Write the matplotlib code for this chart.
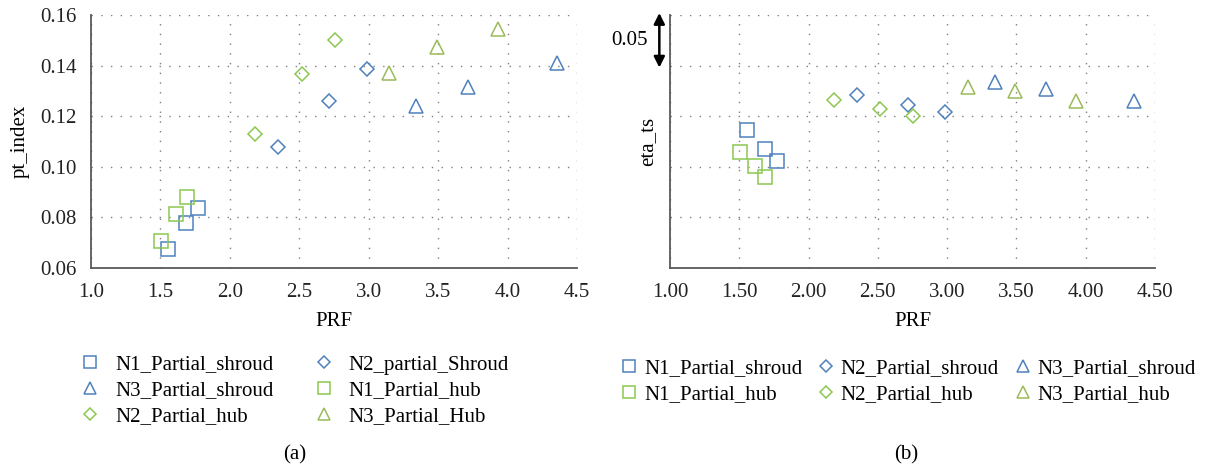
import matplotlib.pyplot as plt

plt.rcParams['font.family'] = ['Liberation Serif', 'DejaVu Serif']
plt.rcParams['font.size'] = 15

# (a) pt_index against PRF
n1_shroud_prf = [1.555, 1.685, 1.774]
n1_shroud_pt = [0.0675, 0.0778, 0.0836]
n1_hub_prf = [1.507, 1.613, 1.690]
n1_hub_pt = [0.0707, 0.0814, 0.0879]
n2_shroud_prf = [2.348, 2.717, 2.991]
n2_shroud_pt = [0.1080, 0.1261, 0.1386]
n2_hub_prf = [2.184, 2.517, 2.758]
n2_hub_pt = [0.1130, 0.1368, 0.1500]
n3_shroud_prf = [3.343, 3.715, 4.353]
n3_shroud_pt = [0.1241, 0.1317, 0.1412]
n3_hub_prf = [3.149, 3.493, 3.934]
n3_hub_pt = [0.1370, 0.1472, 0.1543]

# (b) eta_ts against PRF (axis is unlabelled, only the 0.05 scale bar)
n1_shroud_prf_b = [1.553, 1.683, 1.771]
n1_shroud_eta = [0.7368, 0.7171, 0.7054]
n1_hub_prf_b = [1.505, 1.615, 1.686]
n1_hub_eta = [0.7142, 0.7011, 0.6903]
n2_shroud_prf_b = [2.347, 2.716, 2.988]
n2_shroud_eta = [0.7708, 0.7607, 0.7538]
n2_hub_prf_b = [2.183, 2.512, 2.756]
n2_hub_eta = [0.7662, 0.7567, 0.7505]
n3_shroud_prf_b = [3.343, 3.714, 4.352]
n3_shroud_eta = [0.7842, 0.7770, 0.7649]
n3_hub_prf_b = [3.147, 3.493, 3.932]
n3_hub_eta = [0.7787, 0.7747, 0.7649]

x_ticks_a = [1.0, 1.5, 2.0, 2.5, 3.0, 3.5, 4.0, 4.5]
y_ticks_a = [0.06, 0.08, 0.10, 0.12, 0.14, 0.16]
x_ticks_b = [1.0, 1.5, 2.0, 2.5, 3.0, 3.5, 4.0, 4.5]
y_ticks_b = [0.60, 0.65, 0.70, 0.75, 0.80, 0.85]

blue = '#4f81bd'
green = '#8cc850'
olive = '#9bbb59'

W, H = 1213, 468
fig = plt.figure(figsize=(W / 100, H / 100), dpi=100)
ax1 = fig.add_axes([91 / W, 1 - 268 / H, 486 / W, 253 / H])
ax2 = fig.add_axes([670 / W, 1 - 268 / H, 485 / W, 253 / H])


def style(ax):
    for s in ['top', 'right']:
        ax.spines[s].set_visible(False)
    for s in ['left', 'bottom']:
        ax.spines[s].set_color('#595959')
        ax.spines[s].set_linewidth(1.3)
    ax.grid(True, color='#7f7f7f', linestyle=(0, (1, 6)), linewidth=1.0)
    ax.set_axisbelow(True)
    ax.tick_params(length=0, colors='#222222')
    ax.tick_params(axis='x', pad=11)
    ax.tick_params(axis='y', pad=10)
    ax.set_xlabel('PRF', labelpad=7)


def scatter(ax, x, y, marker, color, label, ms):
    return ax.plot(x, y, linestyle='none', marker=marker, ms=ms, mfc='none',
                   mec=color, mew=1.1, label=label, clip_on=False)[0]


# left panel
s1 = scatter(ax1, n1_shroud_prf, n1_shroud_pt, 's', blue, 'N1_Partial_shroud', 10)
s2 = scatter(ax1, n2_shroud_prf, n2_shroud_pt, 'D', blue, 'N2_partial_Shroud', 7.5)
s3 = scatter(ax1, n3_shroud_prf, n3_shroud_pt, '^', blue, 'N3_Partial_shroud', 10)
h1 = scatter(ax1, n1_hub_prf, n1_hub_pt, 's', green, 'N1_Partial_hub', 10)
h2 = scatter(ax1, n2_hub_prf, n2_hub_pt, 'D', green, 'N2_Partial_hub', 7.5)
h3 = scatter(ax1, n3_hub_prf, n3_hub_pt, '^', olive, 'N3_Partial_Hub', 10)
style(ax1)
ax1.set_xlim(1.0, 4.5)
ax1.set_ylim(0.06, 0.16)
ax1.set_xticks(x_ticks_a)
ax1.set_yticks(y_ticks_a)
ax1.set_xticklabels([f'{v:.1f}' for v in x_ticks_a])
ax1.set_yticklabels([f'{v:.2f}' for v in y_ticks_a])
ax1.set_ylabel('pt_index')
ax1.yaxis.set_label_coords(-0.126, 0.5)

leg_a = [s1, s3, h2, s2, h1, h3]
ax1.legend(leg_a, [h.get_label() for h in leg_a], ncol=2, frameon=False,
           loc='upper left', bbox_to_anchor=(80 / W, 1 - 355 / H),
           bbox_transform=fig.transFigure, borderpad=0, borderaxespad=0,
           handlelength=1.0, handletextpad=0.7, columnspacing=1.9,
           labelspacing=0.29, markerscale=0.8)

# right panel
b1 = scatter(ax2, n1_shroud_prf_b, n1_shroud_eta, 's', blue, 'N1_Partial_shroud', 10)
b2 = scatter(ax2, n2_shroud_prf_b, n2_shroud_eta, 'D', blue, 'N2_Partial_shroud', 7.5)
b3 = scatter(ax2, n3_shroud_prf_b, n3_shroud_eta, '^', blue, 'N3_Partial_shroud', 10)
g1 = scatter(ax2, n1_hub_prf_b, n1_hub_eta, 's', green, 'N1_Partial_hub', 10)
g2 = scatter(ax2, n2_hub_prf_b, n2_hub_eta, 'D', green, 'N2_Partial_hub', 7.5)
g3 = scatter(ax2, n3_hub_prf_b, n3_hub_eta, '^', olive, 'N3_Partial_hub', 10)
style(ax2)
ax2.set_xlim(1.0, 4.5)
ax2.set_ylim(0.60, 0.85)
ax2.set_xticks(x_ticks_b)
ax2.set_yticks(y_ticks_b)
ax2.set_xticklabels([f'{v:.2f}' for v in x_ticks_b])
ax2.set_yticklabels([])
ax2.set_ylabel('eta_ts')
ax2.yaxis.set_label_coords(-0.026, 0.5)

# 0.05 scale bar on the unlabelled axis
ax2.annotate('', xy=(-0.022, 0.852), xytext=(-0.022, 0.798),
             xycoords=('axes fraction', 'data'),
             arrowprops=dict(arrowstyle='<|-|>', color='black', lw=1.8,
                             mutation_scale=16, shrinkA=0, shrinkB=0),
             annotation_clip=False)
ax2.text(-0.045, 0.825, '0.05', transform=ax2.get_yaxis_transform(),
         ha='right', va='center')

leg_b = [b1, g1, b2, g2, b3, g3]
ax2.legend(leg_b, [h.get_label() for h in leg_b], ncol=3, frameon=False,
           loc='upper left', bbox_to_anchor=(621 / W, 1 - 359 / H),
           bbox_transform=fig.transFigure, borderpad=0, borderaxespad=0,
           handlelength=0.8, handletextpad=0.3, columnspacing=0.75,
           labelspacing=0.29, markerscale=0.8)

fig.text(295 / W, 1 - 455 / H, '(a)', ha='center', va='center')
fig.text(906 / W, 1 - 455 / H, '(b)', ha='center', va='center')

fig.savefig('out.png', dpi=100)
